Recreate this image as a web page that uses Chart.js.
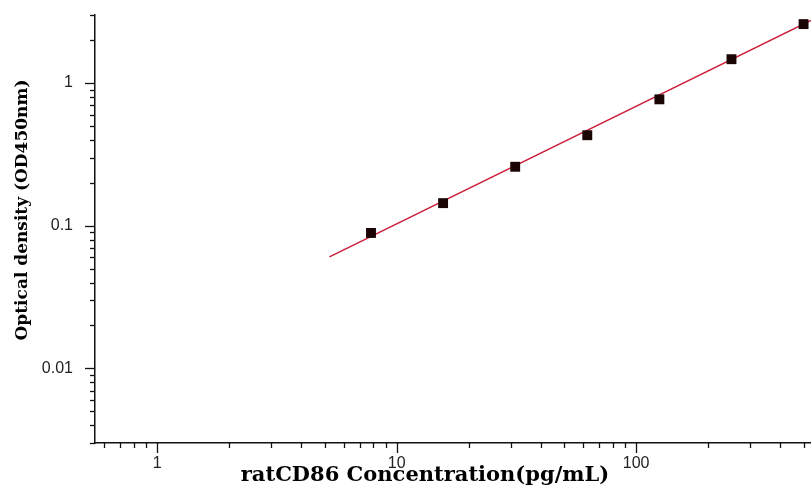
<!DOCTYPE html>
<html>
<head>
<meta charset="utf-8">
<script src="https://cdn.jsdelivr.net/npm/chart.js@4.4.1/dist/chart.umd.min.js"></script>
<style>
  html, body { margin: 0; padding: 0; background: #fff; overflow: hidden; }
  #wrap { width: 811px; height: 489px; position: relative; }
</style>
</head>
<body>
<div id="wrap"><canvas id="c"></canvas></div>
<script>
// Standard concentrations (pg/mL) and measured optical densities
const concentrations = [7.8125, 15.625, 31.25, 62.5, 125, 250, 500];
const opticalDensity = [0.089, 0.144, 0.259, 0.431, 0.769, 1.47, 2.59];
// Fitted standard curve end points
const fitX = [5.24, 537];
const fitY = [0.0605, 2.75];
// Axis ranges and labelled ticks
const xRange = [0.55, 537];
const yRange = [0.003, 3];
const xTickLabels = [1, 10, 100];
const yTickLabels = [1, 0.1, 0.01];
const xTitle = 'ratCD86 Concentration(pg/mL)';
const yTitle = 'Optical density (OD450nm)';

const near = (a, b) => Math.abs(a - b) / b < 1e-6;

function isNice(v) {
  const e = Math.floor(Math.log10(v) + 1e-9);
  const s = v / Math.pow(10, e);
  return Math.abs(s - Math.round(s)) < 1e-6;
}
function isDecade(v) {
  const l = Math.log10(v);
  return Math.abs(l - Math.round(l)) < 1e-6;
}

const tickPlugin = {
  id: 'logTicks',
  afterDraw(chart) {
    const ctx = chart.ctx;
    const xs = chart.scales.x, ys = chart.scales.y;
    const area = chart.chartArea;
    ctx.save();
    ctx.strokeStyle = '#111';
    ctx.lineWidth = 1.3;
    xs.ticks.forEach(t => {
      if (!isNice(t.value)) return;
      const px = Math.round(xs.getPixelForValue(t.value)) + 0.5;
      const len = isDecade(t.value) ? 10 : 5;
      ctx.beginPath();
      ctx.moveTo(px, area.bottom);
      ctx.lineTo(px, area.bottom + len);
      ctx.stroke();
    });
    ys.ticks.forEach(t => {
      if (!isNice(t.value)) return;
      const py = Math.round(ys.getPixelForValue(t.value)) + 0.5;
      const len = isDecade(t.value) ? 10 : 5;
      ctx.beginPath();
      ctx.moveTo(area.left, py);
      ctx.lineTo(area.left - len, py);
      ctx.stroke();
    });
    // axis titles
    const o = chart.options.plugins.axisTitles;
    ctx.fillStyle = '#000';
    ctx.textAlign = 'center';
    ctx.textBaseline = 'middle';
    ctx.font = o.x.font;
    ctx.fillText(o.x.text, o.x.cx, o.x.cy);
    ctx.translate(o.y.cx, o.y.cy);
    ctx.rotate(-Math.PI / 2);
    ctx.font = o.y.font;
    ctx.fillText(o.y.text, 0, 0);
    ctx.restore();
  }
};

function zeroPad(s) {
  s.paddingTop = 0; s.paddingBottom = 0; s.paddingLeft = 0; s.paddingRight = 0;
}

new Chart(document.getElementById('c'), {
  type: 'scatter',
  data: {
    datasets: [
      {
        label: 'Standards',
        data: concentrations.map((x, i) => ({ x, y: opticalDensity[i] })),
        pointStyle: 'rect',
        pointRadius: 7,
        pointHoverRadius: 7,
        backgroundColor: '#1a0404',
        borderColor: '#1a0404',
        borderWidth: 0,
        showLine: false
      },
      {
        label: 'Fit',
        data: fitX.map((x, i) => ({ x, y: fitY[i] })),
        showLine: true,
        borderColor: '#cc1f3a',
        borderWidth: 1.6,
        pointRadius: 0,
        fill: false
      }
    ]
  },
  options: {
    responsive: true,
    maintainAspectRatio: false,
    animation: false,
    layout: { autoPadding: false, padding: { top: 15, left: 0, right: 0, bottom: 0 } },
    plugins: {
      legend: { display: false },
      tooltip: { enabled: false },
      axisTitles: {
        x: { text: xTitle, cx: 425, cy: 476, font: 'bold 21px "DejaVu Serif"' },
        y: { text: yTitle, cx: 23, cy: 210, font: 'bold 17px "DejaVu Serif"' }
      }
    },
    scales: {
      x: {
        type: 'logarithmic',
        min: xRange[0],
        max: xRange[1],
        afterFit(s) { s.height = 46; zeroPad(s); },
        border: { display: true, color: '#111', width: 1.5 },
        grid: { display: true, drawOnChartArea: false, drawTicks: true, tickLength: 10, tickColor: 'rgba(0,0,0,0)' },
        ticks: {
          autoSkip: false,
          maxRotation: 0,
          padding: 1,
          color: '#222',
          font: { family: '"Liberation Sans", Arial', size: 16 },
          callback: (v) => xTickLabels.some(t => near(v, t)) ? String(xTickLabels.find(t => near(v, t))) : ''
        }
      },
      y: {
        type: 'logarithmic',
        min: yRange[0],
        max: yRange[1],
        afterFit(s) { s.width = 95; zeroPad(s); },
        border: { display: true, color: '#111', width: 1.5 },
        grid: { display: true, drawOnChartArea: false, drawTicks: true, tickLength: 10, tickColor: 'rgba(0,0,0,0)' },
        ticks: {
          autoSkip: false,
          padding: 12,
          color: '#222',
          font: { family: '"Liberation Sans", Arial', size: 16 },
          callback: (v) => yTickLabels.some(t => near(v, t)) ? String(yTickLabels.find(t => near(v, t))) : ''
        }
      }
    }
  },
  plugins: [tickPlugin]
});
</script>
</body>
</html>
